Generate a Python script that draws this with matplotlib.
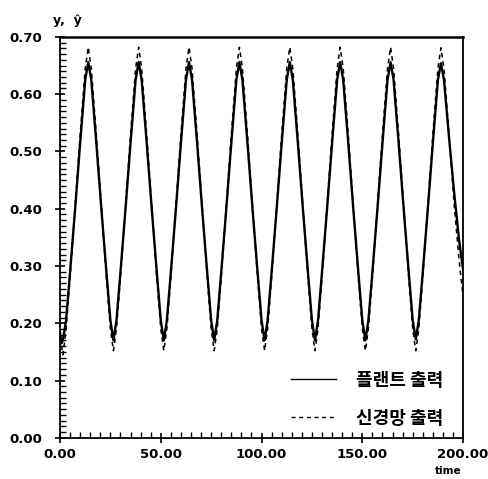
import matplotlib
matplotlib.use("Agg")
import matplotlib.pyplot as plt
from matplotlib.ticker import MultipleLocator, FormatStrFormatter

# ---- Data ----
time = [0, 0.7,
        1.5, 3, 5, 7.5, 10, 12.5, 14, 15.5, 18, 20.5, 23, 25,
        26.5, 28, 30, 32.5, 35, 37.5, 39, 40.5, 43, 45.5, 48, 50,
        51.5, 53, 55, 57.5, 60, 62.5, 64, 65.5, 68, 70.5, 73, 75,
        76.5, 78, 80, 82.5, 85, 87.5, 89, 90.5, 93, 95.5, 98, 100,
        101.5, 103, 105, 107.5, 110, 112.5, 114, 115.5, 118, 120.5, 123, 125,
        126.5, 128, 130, 132.5, 135, 137.5, 139, 140.5, 143, 145.5, 148, 150,
        151.5, 153, 155, 157.5, 160, 162.5, 164, 165.5, 168, 170.5, 173, 175,
        176.5, 178, 180, 182.5, 185, 187.5, 189, 190.5, 193, 195.5, 198, 200]

plant_out = [0.185, 0.165,
             0.172, 0.205, 0.29, 0.40, 0.515, 0.625, 0.656, 0.625, 0.515, 0.40, 0.29, 0.205,
             0.170, 0.205, 0.29, 0.40, 0.515, 0.625, 0.656, 0.625, 0.515, 0.40, 0.29, 0.205,
             0.170, 0.205, 0.29, 0.40, 0.515, 0.625, 0.656, 0.625, 0.515, 0.40, 0.29, 0.205,
             0.170, 0.205, 0.29, 0.40, 0.515, 0.625, 0.656, 0.625, 0.515, 0.40, 0.29, 0.205,
             0.170, 0.205, 0.29, 0.40, 0.515, 0.625, 0.656, 0.625, 0.515, 0.40, 0.29, 0.205,
             0.170, 0.205, 0.29, 0.40, 0.515, 0.625, 0.656, 0.625, 0.515, 0.40, 0.29, 0.205,
             0.170, 0.205, 0.29, 0.40, 0.515, 0.625, 0.656, 0.625, 0.515, 0.40, 0.29, 0.205,
             0.172, 0.205, 0.29, 0.40, 0.515, 0.625, 0.654, 0.625, 0.525, 0.43, 0.345, 0.293]

nn_out = [0.175, 0.160,
          0.145, 0.19, 0.28, 0.405, 0.53, 0.645, 0.682, 0.645, 0.53, 0.405, 0.28, 0.19,
          0.152, 0.19, 0.28, 0.405, 0.53, 0.645, 0.682, 0.645, 0.53, 0.405, 0.28, 0.19,
          0.152, 0.19, 0.28, 0.405, 0.53, 0.645, 0.682, 0.645, 0.53, 0.405, 0.28, 0.19,
          0.152, 0.19, 0.28, 0.405, 0.53, 0.645, 0.682, 0.645, 0.53, 0.405, 0.28, 0.19,
          0.152, 0.19, 0.28, 0.405, 0.53, 0.645, 0.682, 0.645, 0.53, 0.405, 0.28, 0.19,
          0.152, 0.19, 0.28, 0.405, 0.53, 0.645, 0.682, 0.645, 0.53, 0.405, 0.28, 0.19,
          0.152, 0.19, 0.28, 0.405, 0.53, 0.645, 0.682, 0.645, 0.53, 0.405, 0.28, 0.19,
          0.152, 0.19, 0.28, 0.405, 0.53, 0.645, 0.681, 0.645, 0.53, 0.41, 0.31, 0.246]

labels = ["플랜트 출력", "신경망 출력"]

# ---- Plot ----
plt.rcParams['font.family'] = ['DejaVu Sans', 'Noto Sans CJK KR']

fig = plt.figure(figsize=(4.88, 4.79), dpi=100)
ax = fig.add_axes([0.123, 0.086, 0.826, 0.837])

ax.plot(time, plant_out, color='black', lw=1.7, label=labels[0])
ax.plot(time, nn_out, color='black', lw=1.1, linestyle=(0, (3, 2.5)), label=labels[1])

ax.set_xlim(0, 200)
ax.set_ylim(0, 0.70)
ax.xaxis.set_major_locator(MultipleLocator(50))
ax.xaxis.set_minor_locator(MultipleLocator(5))
ax.yaxis.set_major_locator(MultipleLocator(0.1))
ax.yaxis.set_minor_locator(MultipleLocator(0.01))
ax.xaxis.set_major_formatter(FormatStrFormatter('%.2f'))
ax.yaxis.set_major_formatter(FormatStrFormatter('%.2f'))

ax.tick_params(which='major', direction='inout', length=7, width=1.2,
               labelsize=9.5)
ax.tick_params(which='minor', direction='in', length=4, width=1.0)
ax.tick_params(axis='y', which='major', pad=9.5)
ax.tick_params(axis='x', which='major', pad=4)
for lbl in ax.get_xticklabels() + ax.get_yticklabels():
    lbl.set_fontweight('bold')
for sp in ax.spines.values():
    sp.set_linewidth(1.3)
ax.spines['top'].set_linewidth(1.8)

fig.text(0.108, 0.957, 'y,  ŷ', fontsize=9, fontweight='bold', va='center')
fig.text(0.918, 0.017, 'time', fontsize=7.5, fontweight='bold', ha='center', va='center')

leg = ax.legend(loc='lower right', bbox_to_anchor=(0.99, -0.015), frameon=False,
                handlelength=2.5, handletextpad=1.1, labelspacing=1.05,
                prop={'family': ['Noto Sans CJK KR'], 'weight': 'bold', 'size': 13})
for line in leg.get_lines():
    line.set_linewidth(1.0)

fig.savefig('out.png', dpi=100)
